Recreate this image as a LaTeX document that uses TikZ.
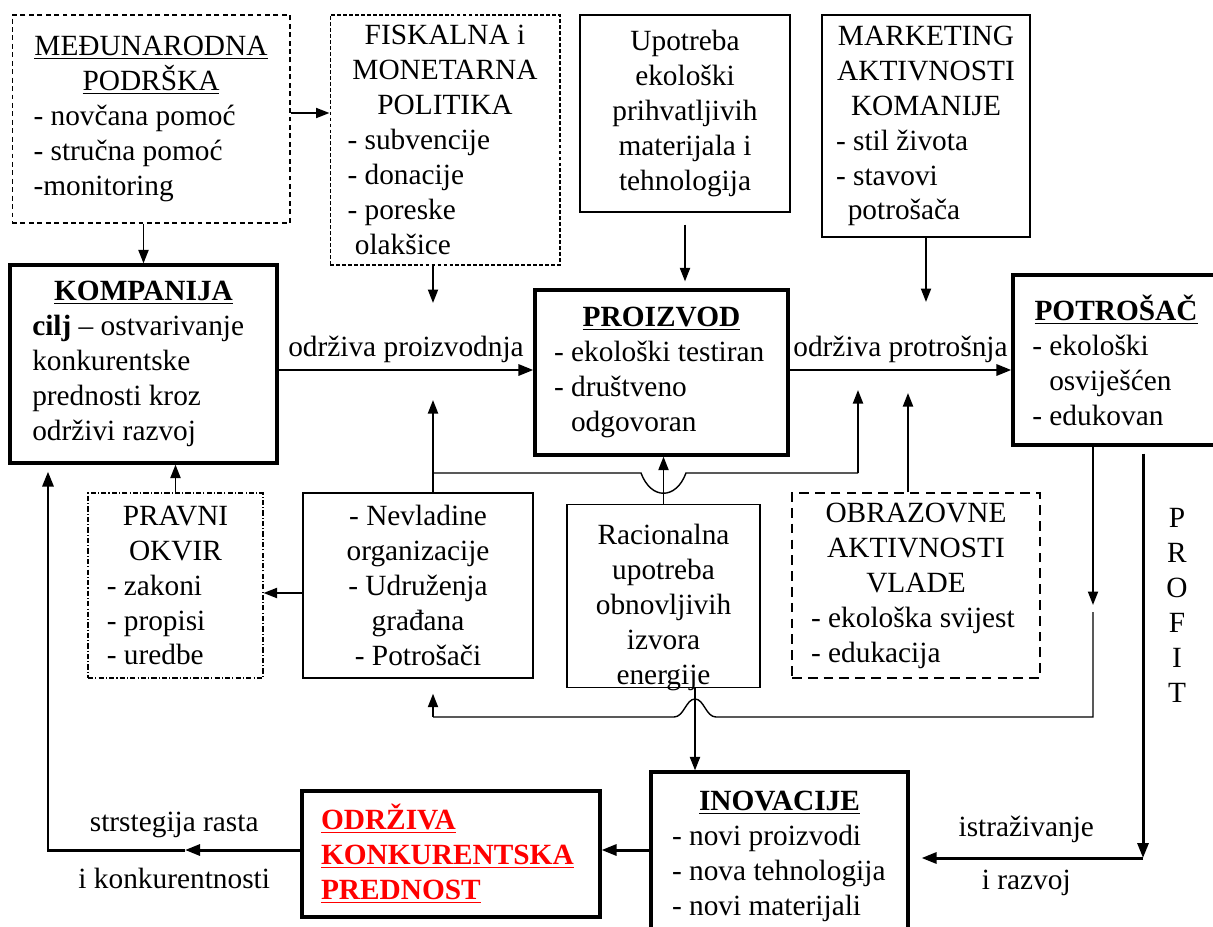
\documentclass[tikz,border=0pt]{standalone}
\usepackage{fontspec}
\setmainfont{Liberation Serif}
\usetikzlibrary{arrows.meta}
\tikzstyle{thinbox} = [rectangle, draw, line width=0.8pt, inner sep=0pt]
\tikzstyle{thickbox} = [rectangle, draw, line width=1.8pt, inner sep=0pt]
\tikzstyle{shortdash} = [rectangle, draw, line width=0.6pt, inner sep=0pt, dash pattern=on 2.8pt off 2pt]
\tikzstyle{finedash} = [rectangle, draw, line width=0.6pt, inner sep=0pt, dash pattern=on 2.2pt off 1.2pt]
\tikzstyle{dashdot} = [rectangle, draw, line width=0.6pt, inner sep=0pt, dash pattern=on 3pt off 1.2pt on 0.6pt off 1.2pt]
\tikzstyle{longdash} = [rectangle, draw, line width=0.7pt, inner sep=0pt, dash pattern=on 5.5pt off 3.5pt]
\tikzstyle{arrow} = [line width=1.1pt, -{Triangle[length=0.27cm, width=0.2cm]}]
\tikzstyle{bigarrow} = [line width=1.7pt, -{Triangle[length=0.3cm, width=0.22cm]}]
\tikzstyle{thinline} = [line width=0.8pt]

\begin{document}
\begin{tikzpicture}[x=0.02cm, y=-0.02cm, font=\fontsize{16.7}{19.9}\selectfont]

    \useasboundingbox (0,0) rectangle (1213,926);

    % Nodes
    \node (medj) [shortdash, minimum width=5.56cm, minimum height=4.16cm, text width=4.7cm, align=flush left] at (151,119) {{\centering\underline{MEĐUNARODNA}\\\underline{PODRŠKA}\par}- novčana pomoć\\- stručna pomoć\\-monitoring};
    \node (fisk) [finedash, minimum width=4.6cm, minimum height=5cm, text width=3.9cm, align=flush left] at (445,140) {{\centering FISKALNA i\\MONETARNA\\POLITIKA\par}- subvencije\\- donacije\\- poreske\\\hspace*{0.25em}olakšice};
    \node (upotreba) [thinbox, minimum width=4.2cm, minimum height=3.94cm, align=center] at (685,113.5) {Upotreba\\ekološki\\prihvatljivih\\materijala i\\tehnologija};
    \node (market) [thinbox, minimum width=4.16cm, minimum height=4.44cm, text width=3.6cm, align=flush left] at (926,126) {{\centering MARKETING\\AKTIVNOSTI\\KOMANIJE\par}- stil života\\- stavovi\\\hspace*{0.4em}potrošača};

    \node (komp) [thickbox, minimum width=5.34cm, minimum height=3.96cm, text width=4.45cm, align=flush left] at (143.5,364) {{\centering\textbf{\underline{KOMPANIJA}}\par}\textbf{cilj} – ostvarivanje\\konkurentske\\prednosti kroz\\održivi razvoj};
    \node (proizvod) [thickbox, minimum width=5.06cm, minimum height=3.3cm, text width=4.3cm, align=flush left] at (661.5,372.5) {{\centering\textbf{\underline{PROIZVOD}}\par}- ekološki testiran\\- društveno\\\hspace*{0.58em}odgovoran};
    \node (potrosac) [thickbox, minimum width=4.12cm, minimum height=3.4cm, text width=3.35cm, align=flush left] at (1116,360) {{\centering\textbf{\underline{POTROŠAČ}}\par}- ekološki\\\hspace*{0.58em}osviješćen\\- edukovan};

    \node (pravni) [dashdot, minimum width=3.5cm, minimum height=3.7cm, text width=2.75cm, align=flush left] at (175.5,585.5) {{\centering PRAVNI\\OKVIR\par}- zakoni\\- propisi\\- uredbe};
    \node (nvo) [thinbox, minimum width=4.6cm, minimum height=3.7cm, align=center] at (418,585.5) {- Nevladine\\organizacije\\- Udruženja\\građana\\- Potrošači};
    \node (racional) [thinbox, minimum width=3.86cm, text width=3.7cm, text height=0.8cm, text depth=2.85cm, align=center] at (663.5,596) {Racionalna\\upotreba\\obnovljivih\\izvora\\energije};
    \node (obraz) [longdash, minimum width=4.96cm, minimum height=3.7cm, text width=4.2cm, align=flush left] at (916,585.5) {{\centering OBRAZOVNE\\AKTIVNOSTI\\VLADE\par}- ekološka svijest\\- edukacija};

    \node (inov) [thickbox, minimum width=5.14cm, minimum height=3.36cm, text width=4.3cm, align=flush left] at (779.5,856) {{\centering\textbf{\underline{INOVACIJE}}\par}- novi proizvodi\\- nova tehnologija\\- novi materijali};
    \node (odrz) [thickbox, minimum width=5.96cm, minimum height=2.52cm, text width=5.2cm, align=flush left, text=red] at (451,854) {\textbf{\underline{ODRŽIVA}}\\\textbf{\underline{KONKURENTSKA}}\\\textbf{\underline{PREDNOST}}};

    \node (profit) [align=center] at (1177,605) {P\\R\\O\\F\\I\\T};

    % Coordinates
    \coordinate (mainline) at (0,370);
    \coordinate (fiskend) at (433,303);
    \coordinate (marketend) at (926,302);
    \coordinate (nvoend) at (433,400);
    \coordinate (ngoline) at (433,473);
    \coordinate (ngoturn) at (858,473);
    \coordinate (ngoend) at (858,390);
    \coordinate (obrazend) at (908,393);
    \coordinate (consdown) at (1093,605);
    \coordinate (consgap) at (1093,612);
    \coordinate (feedline) at (433,717);
    \coordinate (racdown) at (695,740);
    \coordinate (profitcorner) at (1143,858);
    \coordinate (strcorner) at (48,850);
    \coordinate (strtip) at (185,850);

    % Arrows
    \draw [arrow] ([yshift=0.12cm]medj.east) -- ([yshift=0.12cm]medj.east -| fisk.west);
    \draw [arrow] (medj.south -| komp.north) -- (komp.north);
    \draw [arrow] (fisk.south -| fiskend) -- (fiskend);
    \draw [arrow, shorten <=0.24cm, shorten >=0.14cm] (upotreba.south) -- (upotreba.south |- proizvod.north);
    \draw [arrow] (market.south) -- (marketend);

    \draw [bigarrow] (komp.east |- mainline) -- (proizvod.west |- mainline) node [midway, above] {održiva proizvodnja};
    \draw [bigarrow] (proizvod.east |- mainline) -- (potrosac.west |- mainline) node [midway, above] {održiva protrošnja};

    \draw [arrow] (nvo.north -| nvoend) -- (nvoend);
    \draw [arrow] (racional.north) -- (racional.north |- proizvod.south);
    \draw [thinline] (ngoline) -- (641,473) .. controls (651,500) and (676,500) .. (686,473) -- (ngoturn);
    \draw [arrow] (ngoturn) -- (ngoend);
    \draw [arrow] (obraz.north -| obrazend) -- (obrazend);

    \draw [arrow] (potrosac.south -| consdown) -- (consdown);
    \draw [thinline] (consgap) -- (consgap |- feedline) -- (716,717) .. controls (706,717) and (704,699) .. (695,699) .. controls (686,699) and (684,717) .. (674,717) -- (feedline);
    \draw [arrow, shorten >=0.3cm] (feedline) -- (feedline |- nvo.south);
    \draw [arrow] (racional.south -| racdown) -- (inov.north -| racdown);

    \draw [bigarrow, shorten <=0.14cm] (potrosac.south -| profitcorner) -- (profitcorner);
    \draw [bigarrow, shorten >=0.24cm] (profitcorner) -- (inov.east |- profitcorner) node [midway, above=0.16cm] {istraživanje} node [midway, below=0.1cm] {i razvoj};

    \draw [bigarrow] (inov.west |- strcorner) -- (odrz.east |- strcorner);
    \draw [bigarrow] (odrz.west |- strcorner) -- (strtip);
    \draw [bigarrow, shorten >=0.14cm] (strtip) -- (strcorner) -- (strcorner |- komp.south);
    \path (odrz.west |- strcorner) -- (strcorner) node [midway, above=0.12cm] {strstegija rasta} node [midway, below=0.24cm] {i konkurentnosti};

    \draw [arrow] (pravni.north) -- (pravni.north |- komp.south);
    \draw [arrow] ([yshift=-0.15cm]nvo.west) -- ([yshift=-0.15cm]nvo.west -| pravni.east);

\end{tikzpicture}
\end{document}
